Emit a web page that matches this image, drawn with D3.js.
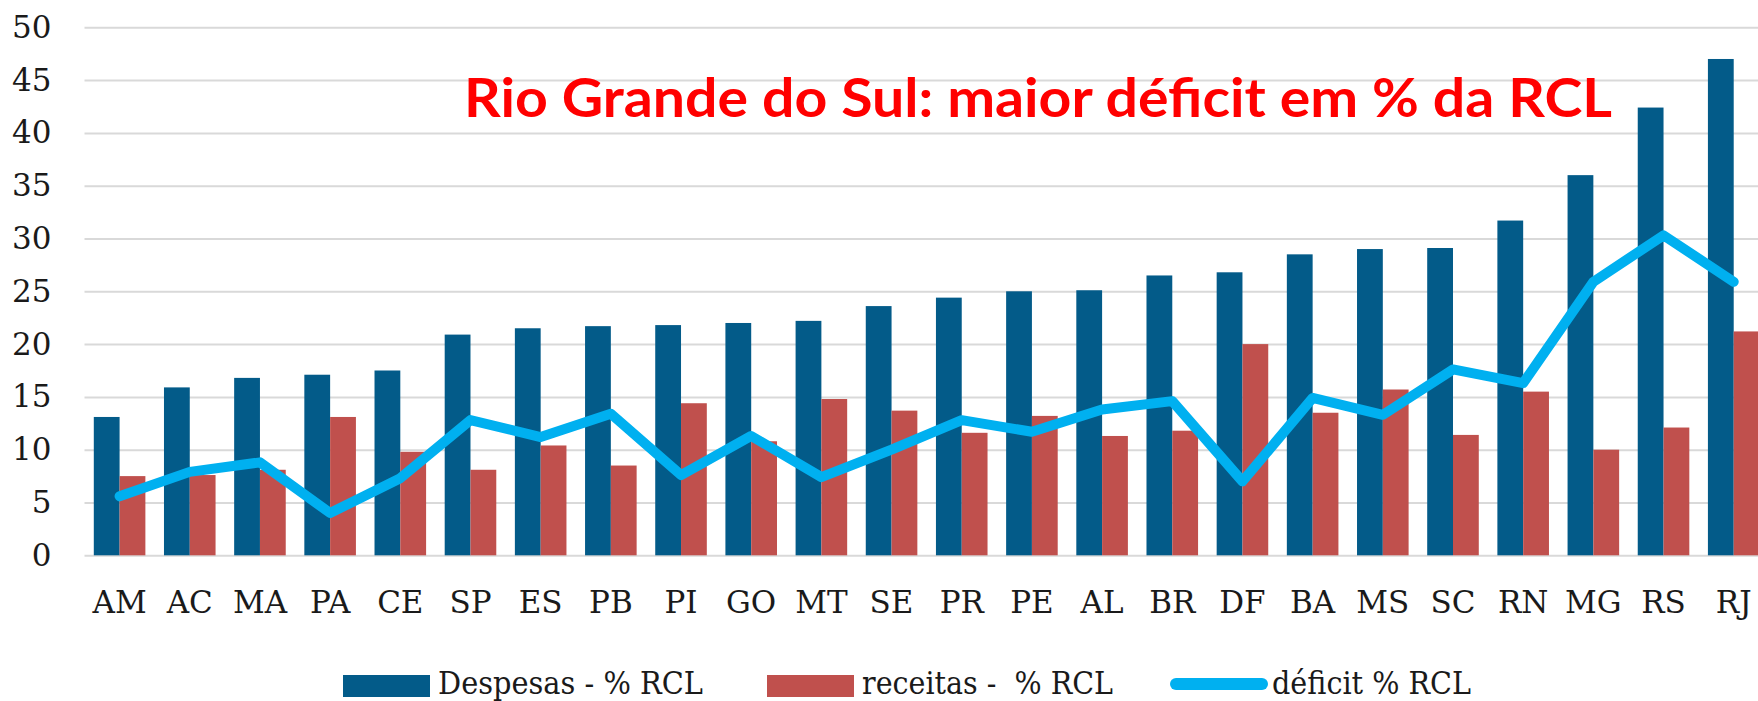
<!DOCTYPE html>
<html>
<head>
<meta charset="utf-8">
<script src="https://cdn.jsdelivr.net/npm/d3@7"></script>
<style>
  body { margin: 0; background: #fff; }
  svg { display: block; }
  text { font-family: "DejaVu Serif", serif; fill: #1a1a1a; }
</style>
</head>
<body>
<script>
// estados ordenados pela despesa
const categories = ["AM", "AC", "MA", "PA", "CE", "SP", "ES", "PB", "PI", "GO", "MT", "SE",
    "PR", "PE", "AL", "BR", "DF", "BA", "MS", "SC", "RN", "MG", "RS", "RJ"]
const despesas = [13.1, 15.9, 16.8, 17.1, 17.5, 20.9, 21.5, 21.7, 21.8, 22.0, 22.2, 23.6,
    24.4, 25.0, 25.1, 26.5, 26.8, 28.5, 29.0, 29.1, 31.7, 36.0, 42.4, 47.0]
const receitas = [7.5, 7.6, 8.1, 13.1, 9.8, 8.1, 10.4, 8.5, 14.4, 10.8, 14.8, 13.7,
    11.6, 13.2, 11.3, 11.8, 20.0, 13.5, 15.7, 11.4, 15.5, 10.0, 12.1, 21.2]
const deficit = [5.6, 7.9, 8.8, 4.0, 7.3, 12.8, 11.2, 13.4, 7.6, 11.3, 7.4, 10.0,
    12.8, 11.7, 13.8, 14.6, 7.0, 14.9, 13.3, 17.6, 16.3, 25.9, 30.3, 25.9]
const yTicks = [0, 5, 10, 15, 20, 25, 30, 35, 40, 45, 50]
const seriesNames = ["Despesas - % RCL", "receitas -  % RCL", "déficit % RCL"]
const title = "Rio Grande do Sul: maior déficit em % da RCL"

const measurements = {
    width: 1758,
    height: 701,
    left: 84.5,
    right: 1768.8,
    top: 27.3,
    bottom: 555.3
}

const colors = {
    despesas: "#035B89",
    receitas: "#C0504D",
    deficit: "#00B0F0",
    grid: "#D9D9D9"
}

const svg = d3.select("body").append("svg")
    .attr("width", measurements.width)
    .attr("height", measurements.height)
    .style("overflow", "hidden")

const x = d3.scaleBand()
    .domain(categories)
    .range([measurements.left, measurements.right])
    .paddingInner(0.265)
    .paddingOuter(0.1325)

const xSub = d3.scaleBand()
    .domain(["despesas", "receitas"])
    .range([0, x.bandwidth()])

const y = d3.scaleLinear()
    .domain([0, 50])
    .range([measurements.bottom, measurements.top])

// eixo y com linhas de grade
const yAxis = svg.append("g")
    .attr("transform", `translate(${measurements.left},0)`)
    .call(d3.axisLeft(y)
        .tickValues(yTicks)
        .tickSizeInner(-(measurements.width - measurements.left))
        .tickSizeOuter(0)
        .tickPadding(33))
yAxis.select(".domain").remove()
yAxis.selectAll(".tick line")
    .attr("stroke", colors.grid)
    .attr("stroke-width", 2)
yAxis.selectAll(".tick text")
    .attr("font-family", "DejaVu Serif")
    .attr("font-size", 31)
    .attr("fill", "#1a1a1a")

// eixo x
const xAxis = svg.append("g")
    .attr("transform", `translate(0,${measurements.bottom})`)
    .call(d3.axisBottom(x).tickSize(0).tickPadding(0))
xAxis.select(".domain").remove()
xAxis.selectAll(".tick text")
    .attr("font-family", "DejaVu Serif")
    .attr("font-size", 31)
    .attr("fill", "#1a1a1a")
    .attr("y", 58)
    .attr("dy", 0)

// barras
const groups = svg.append("g")
    .selectAll("g")
    .data(categories)
    .enter()
    .append("g")
    .attr("transform", d => `translate(${x(d)},0)`)

groups.append("rect")
    .attr("x", xSub("despesas"))
    .attr("width", xSub.bandwidth())
    .attr("y", (d, i) => y(despesas[i]))
    .attr("height", (d, i) => y(0) - y(despesas[i]))
    .attr("fill", colors.despesas)

groups.append("rect")
    .attr("x", xSub("receitas"))
    .attr("width", xSub.bandwidth())
    .attr("y", (d, i) => y(receitas[i]))
    .attr("height", (d, i) => y(0) - y(receitas[i]))
    .attr("fill", colors.receitas)

// linha do déficit
const line = d3.line()
    .x((d, i) => x(categories[i]) + x.bandwidth() / 2)
    .y(d => y(d))

svg.append("path")
    .datum(deficit)
    .attr("d", line)
    .attr("fill", "none")
    .attr("stroke", colors.deficit)
    .attr("stroke-width", 10)
    .attr("stroke-linejoin", "round")
    .attr("stroke-linecap", "round")

// título
svg.append("text")
    .attr("x", 464)
    .attr("y", 117)
    .style("font-family", "Lato, 'Open Sans', sans-serif")
    .style("font-weight", "bold")
    .style("font-size", "53px")
    .style("fill", "#FF0000")
    .attr("textLength", 1148)
    .attr("lengthAdjust", "spacingAndGlyphs")
    .text(title)

// legenda
const legend = svg.append("g")
const legendY = 686

legend.append("rect")
    .attr("x", 343).attr("y", legendY - 11)
    .attr("width", 87).attr("height", 22)
    .attr("fill", colors.despesas)
legend.append("text")
    .attr("x", 438).attr("y", legendY + 8)
    .attr("font-size", 31)
    .attr("textLength", 265)
    .attr("lengthAdjust", "spacingAndGlyphs")
    .text(seriesNames[0])

legend.append("rect")
    .attr("x", 767).attr("y", legendY - 11)
    .attr("width", 87).attr("height", 22)
    .attr("fill", colors.receitas)
legend.append("text")
    .attr("x", 862).attr("y", legendY + 8)
    .attr("font-size", 31)
    .style("white-space", "pre")
    .attr("textLength", 251)
    .attr("lengthAdjust", "spacingAndGlyphs")
    .text(seriesNames[1])

legend.append("line")
    .attr("x1", 1176).attr("x2", 1262)
    .attr("y1", legendY - 2).attr("y2", legendY - 2)
    .attr("stroke", colors.deficit)
    .attr("stroke-width", 12)
    .attr("stroke-linecap", "round")
legend.append("text")
    .attr("x", 1272).attr("y", legendY + 8)
    .attr("font-size", 31)
    .attr("textLength", 199)
    .attr("lengthAdjust", "spacingAndGlyphs")
    .text(seriesNames[2])
</script>
</body>
</html>
